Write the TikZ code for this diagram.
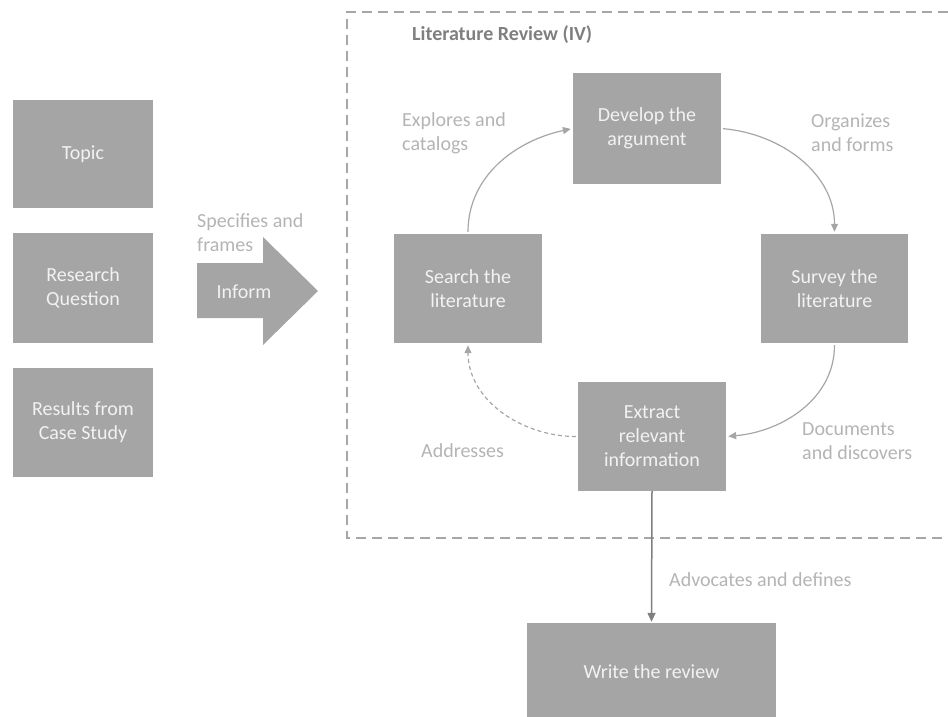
\documentclass[tikz,border=0pt]{standalone}
\usepackage{fontspec}
\setmainfont{Carlito}
\usetikzlibrary{arrows.meta}

\definecolor{boxgray}{HTML}{A5A5A5}
\definecolor{boxtext}{HTML}{F2F2F2}
\definecolor{labelgray}{HTML}{B4B4B4}
\definecolor{linkgray}{HTML}{A6A6A6}
\definecolor{darklink}{HTML}{7F7F7F}
\definecolor{titlegray}{HTML}{7F7F7F}

\tikzset{
  x=1pt, y=-1pt,
  txt/.style={font=\fontsize{20}{24}\selectfont},
  stepbox/.style={txt, fill=boxgray, text=boxtext, align=center,
    inner sep=0pt, minimum width=#1},
  stepbox/.default=148pt,
  lbl/.style={txt, text=labelgray, align=left, anchor=west, inner sep=0pt},
  link/.style={draw=linkgray, line width=1.2pt,
    -{Triangle[length=8pt,width=7pt]}, shorten >=2pt, shorten <=2pt},
}

\begin{document}
\begin{tikzpicture}
\useasboundingbox (0,0) rectangle (948,717);
\clip (0,0) rectangle (948,717);

% inputs on the left
\node[stepbox=140pt, minimum height=108pt] (topic)   at (83,154)   {Topic};
\node[stepbox=140pt, minimum height=110pt] (rq)      at (83,288)   {Research\\Question};
\node[stepbox=140pt, minimum height=109pt] (results) at (83,422.5) {Results from\\Case Study};

% block arrow
\fill[boxgray] (197,263) -- (263,263) -- (263,237) -- (318,291)
  -- (263,345) -- (263,318) -- (197,318) -- cycle;
\node[txt, text=boxtext, inner sep=0pt] (inform) at (244,292) {Inform};
\node[lbl] (specifies) at (197,233) {Specifies and\\frames};

% literature review frame
\draw[linkgray, line width=2pt, dash pattern=on 10pt off 6pt]
  (980,12) -- (347,12) -- (347,538) -- (980,538);
\node[txt, font=\fontsize{20}{24}\selectfont\bfseries, text=titlegray,
  anchor=west, inner sep=0pt] (title) at (412,35) {Literature Review (IV)};

% cycle steps
\node[stepbox, minimum height=111pt] (develop) at (647,128.5)   {Develop the\\argument};
\node[stepbox, minimum height=109pt] (search)  at (468,288.5)   {Search the\\literature};
\node[stepbox=147pt, minimum height=109pt] (survey) at (834.5,288.5) {Survey the\\literature};
\node[stepbox, minimum height=109pt] (extract) at (652,436.5)   {Extract\\relevant\\information};
\node[stepbox=249pt, minimum height=98pt] (write) at (651.5,672) {Write the review};

% connectors
\draw[link] (search.north) to[out=90, in=192] (develop.west);
\draw[link] (develop.east) to[out=-5, in=90] (survey.north);
\draw[link] (survey.south) to[out=-90, in=5] (extract.east);
\draw[link, dashed, dash pattern=on 4pt off 3pt] (extract.west) to[out=180, in=-90] (search.south);
\draw[draw=darklink, line width=1.5pt, -{Triangle[length=9pt,width=8pt]},
  shorten >=1pt] (extract.south) -- (write.north);

% connector labels
\node[lbl] (explores)  at (402,133)   {Explores and\\catalogs};
\node[lbl] (organizes) at (811,133)   {Organizes\\and forms};
\node[lbl] (documents) at (802,441.5) {Documents\\and discovers};
\node[lbl] (addresses) at (421,451)   {Addresses};
\node[lbl] (advocates) at (669,580)   {Advocates and defines};
\end{tikzpicture}
\end{document}
